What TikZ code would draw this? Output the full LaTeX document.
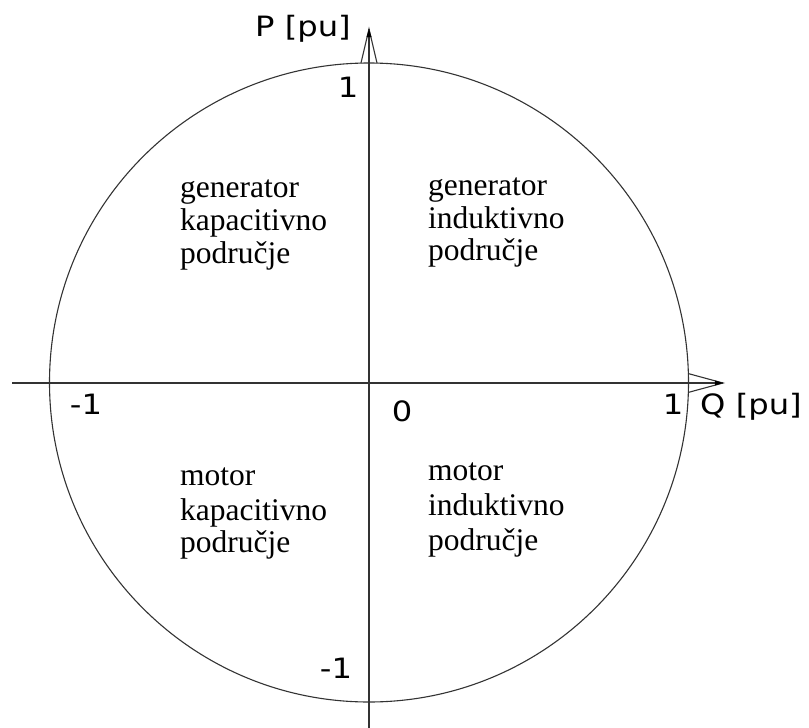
\documentclass[tikz,border=0pt]{standalone}
\usepackage{fontspec}
\setmainfont{Liberation Serif}
\newfontfamily\lblfont[FakeStretch=1.15]{DejaVu Sans}
\begin{document}
\begin{tikzpicture}[x=1pt,y=-1pt,
  axisline/.style={line width=1.1pt,draw=black!80},
  arrowtip/.style={line width=1.1pt,draw=black!80,line join=miter},
  region/.style={anchor=base west,inner sep=0pt,font=\fontsize{31.5}{33}\selectfont},
  lbl/.style={inner sep=0pt,font=\lblfont\fontsize{28}{30}\selectfont}]
\useasboundingbox (0,0) rectangle (809,728);
% circle
\coordinate (O) at (369,382.5);
\draw[axisline] (O) circle [radius=319.5];
% axes
\coordinate (xl) at (12,383);
\coordinate (xr) at (723,383);
\coordinate (yb) at (369,728);
\coordinate (yt) at (369,29);
\draw[axisline] (xl) -- (xr);
\draw[axisline] (yb) -- (yt);
% arrowheads (open)
\draw[arrowtip] (688,373.5) -- (xr) -- (688,392.5);
\fill[black] (723,383) -- (715,380.5) -- (715,385.5) -- cycle;
\draw[arrowtip] (361,63) -- (yt) -- (377,63);
\fill[black] (369,29) -- (366.5,37) -- (371.5,37) -- cycle;
% axis labels
\node[lbl,anchor=base west] (P) at (255,36) {P [pu]};
\node[lbl,anchor=base west] (Q) at (700,414) {Q [pu]};
\node[lbl] (ytop) at (348,87) {1};
\node[lbl] (xneg) at (86,404) {-1};
\node[lbl] (zero) at (402,411) {0};
\node[lbl] (xpos) at (673,404) {1};
\node[lbl] (ybot) at (336,668) {-1};
% region texts
\node[region] (gk1) at (180,197) {generator};
\node[region] (gk2) at (180,230) {kapacitivno};
\node[region] (gk3) at (180,263) {područje};
\node[region] (gi1) at (428,195) {generator};
\node[region] (gi2) at (428,228) {induktivno};
\node[region] (gi3) at (428,260) {područje};
\node[region] (mk1) at (180,485) {motor};
\node[region] (mk2) at (180,520) {kapacitivno};
\node[region] (mk3) at (180,552) {područje};
\node[region] (mi1) at (428,480) {motor};
\node[region] (mi2) at (428,515) {induktivno};
\node[region] (mi3) at (428,550) {područje};
\end{tikzpicture}
\end{document}
